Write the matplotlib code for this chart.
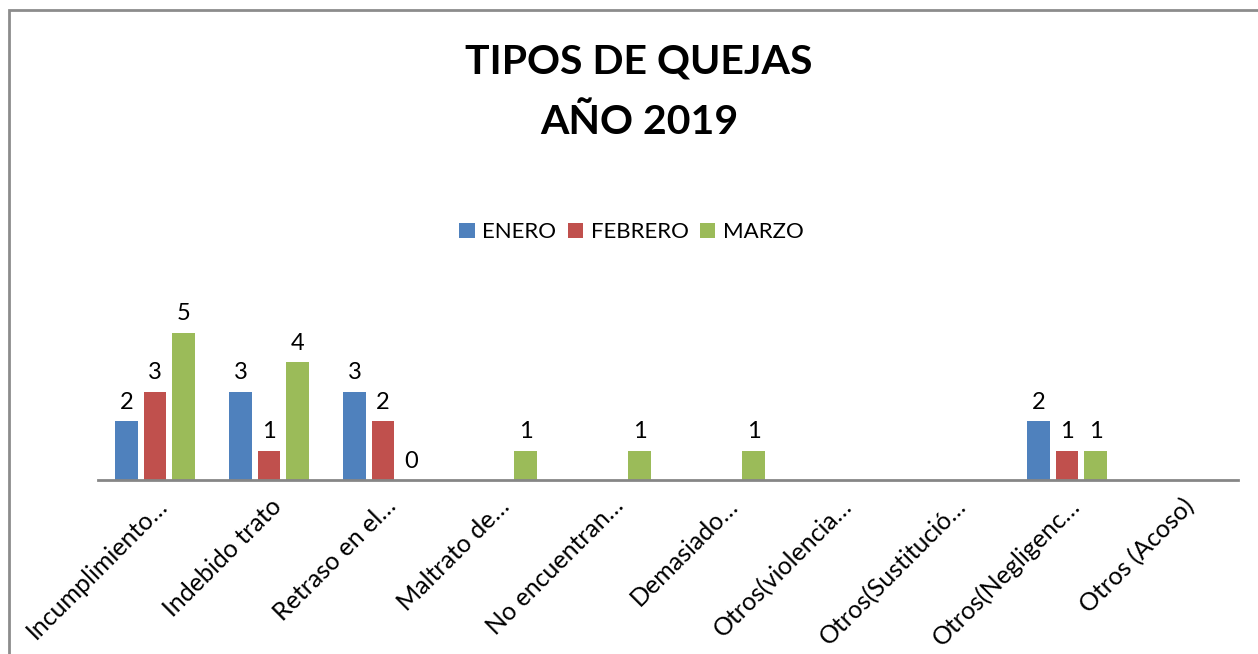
import numpy as np
import matplotlib.pyplot as plt
import matplotlib.transforms as mtransforms
from matplotlib.patches import Rectangle

# -------------------------
# DATA
# -------------------------
categories = [
    "Incumplimiento…", "Indebido trato", "Retraso en el…", "Maltrato de…",
    "No encuentran…", "Demasiado…", "Otros(violencia…", "Otros(Sustitució…",
    "Otros(Negligenc…", "Otros (Acoso)",
]
enero = [2, 3, 3, np.nan, np.nan, np.nan, np.nan, np.nan, 2, np.nan]
febrero = [3, 1, 2, np.nan, np.nan, np.nan, np.nan, np.nan, 1, np.nan]
marzo = [5, 4, 0, 1, 1, 1, np.nan, np.nan, 1, np.nan]

series_names = ["ENERO", "FEBRERO", "MARZO"]
colors = ["#4F81BD", "#C0504D", "#9BBB59"]

font = ["Lato", "DejaVu Sans"]
plt.rcParams['font.family'] = font

# -------------------------
# PLOT
# -------------------------
fig = plt.figure(figsize=(12.58, 6.54), dpi=100)
ax = fig.add_axes([98 / 1258, 174 / 654, 1140 / 1258, 177 / 654])

x = np.arange(len(categories))
offsets = [-0.25, 0, 0.25]
for vals, name, col, off in zip([enero, febrero, marzo], series_names, colors, offsets):
    vals = np.array(vals, dtype=float)
    ax.bar(x + off, np.nan_to_num(vals), width=0.2, color=col, label=name)
    for xi, v in zip(x + off, vals):
        if np.isnan(v):
            continue
        ax.annotate(f"{int(v)}", (xi, v), xytext=(0, 6), textcoords="offset points",
                    ha="center", va="bottom", fontsize=17, color="black")

ax.set_xlim(-0.5, len(categories) - 0.5)
ax.set_ylim(0, 6)
ax.set_yticks([])
for s in ["top", "right", "left"]:
    ax.spines[s].set_visible(False)
ax.spines["bottom"].set_color("#868686")
ax.spines["bottom"].set_linewidth(2)
ax.set_xticks(x)
ax.set_xticklabels(categories, rotation=45, ha="right", va="center",
                   rotation_mode="anchor", fontsize=18)
ax.tick_params(axis="x", length=0, pad=16)
# nudge the rotated labels a little to the right, like Excel does
shift = mtransforms.ScaledTranslation(9 / 100, 0, fig.dpi_scale_trans)
for lbl in ax.get_xticklabels():
    lbl.set_transform(lbl.get_transform() + shift)

fig.text(0.508, 0.905, "TIPOS DE QUEJAS", ha="center", va="center",
         fontsize=29.5, fontweight="bold")
fig.text(0.508, 0.813, "AÑO 2019", ha="center", va="center",
         fontsize=29.5, fontweight="bold")

fig.legend(loc="center", bbox_to_anchor=(0.502, 0.645), ncol=3, frameon=False,
           fontsize=16, handlelength=0.7, handleheight=0.7, handletextpad=0.35,
           columnspacing=0.5)

# outer chart border
fig.patches.append(Rectangle((9 / 1258, -0.1), 1.2, 1 - 10 / 654 + 0.1,
                             transform=fig.transFigure, fill=False,
                             edgecolor="#8c8c8c", linewidth=2))

fig.savefig("out.png", dpi=100)
